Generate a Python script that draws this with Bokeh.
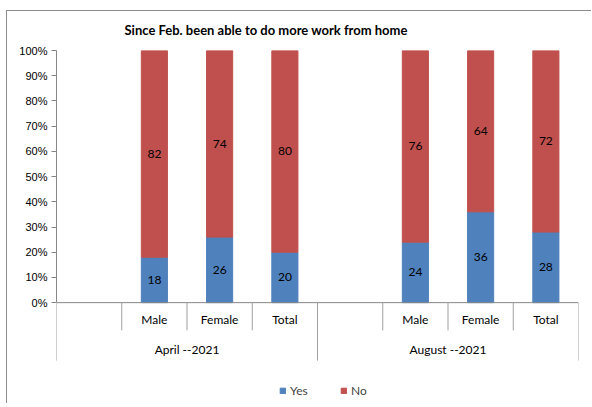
from bokeh.plotting import figure
from bokeh.models import ColumnDataSource, Legend, LegendItem, FixedTicker, PrintfTickFormatter, Range1d
from bokeh.core.properties import value
from bokeh.embed import file_html
from bokeh.resources import INLINE

# ---- data ----
title_text = "Since Feb. been able to do more work from home"
periods = ["April --2021", "August --2021"]
slot_labels = ["", "Male", "Female", "Total"]   # first slot of each period is empty
genders = ["Male", "Female", "Total"]
yes = [18, 26, 20, 24, 36, 28]
no = [82, 74, 80, 76, 64, 72]
y_ticks = [0, 10, 20, 30, 40, 50, 60, 70, 80, 90, 100]

BLUE = "#4F81BD"
RED = "#C0504D"
AXIS = "#868686"
FONT = "Lato"

n_slots = len(slot_labels)
xs, cats = [], []
for i, per in enumerate(periods):
    for j, g in enumerate(genders):
        xs.append(i * n_slots + slot_labels.index(g) + 0.5)
        cats.append(g)

src = ColumnDataSource(dict(
    x=xs, yes=yes, no=no,
    yes_mid=[v / 2 for v in yes],
    no_mid=[a + b / 2 for a, b in zip(yes, no)],
    yes_lbl=[str(v) for v in yes],
    no_lbl=[str(v) for v in no],
))

total_slots = n_slots * len(periods)
p = figure(frame_width=522, frame_height=353, output_backend="svg", toolbar_location=None,
           x_range=Range1d(0, total_slots), y_range=Range1d(-40, 100),
           x_axis_location=None,
           min_border_left=49, min_border_right=13, min_border_top=38, min_border_bottom=0,
           title=title_text)
p.styles = {"margin-left": "6px", "margin-top": "10px",
            "border-left": "1px solid #8c8c8c", "border-top": "1px solid #8c8c8c"}
p.xgrid.visible = False
p.ygrid.visible = False
p.outline_line_color = None

p.title.align = "left"
p.title.offset = 68
p.title.standoff = 21
p.title.vertical_align = "top"
p.title.text_font = FONT
p.title.text_font_size = "13px"
p.title.text_font_style = "bold"
p.title.text_color = "#000000"

ya = p.yaxis[0]
ya.bounds = (0, 100)
ya.ticker = FixedTicker(ticks=y_ticks)
ya.formatter = PrintfTickFormatter(format="%d%%")
ya.minor_tick_line_color = None
ya.major_tick_in = 0
ya.major_tick_out = 5
ya.axis_line_color = AXIS
ya.major_tick_line_color = AXIS
ya.major_label_text_font = "Liberation Sans"
ya.major_label_text_font_size = "11px"
ya.major_label_text_color = "#000000"
ya.major_label_standoff = 4

rs = p.vbar_stack(["yes", "no"], x="x", width=0.4, color=[BLUE, RED], source=src)

# horizontal axis line at 0
p.segment(x0=[0], y0=[0], x1=[total_slots], y1=[0], line_color=AXIS, line_width=1)
# category separators
bx = list(range(total_slots + 1))
by = [-23 if b % n_slots == 0 else -11 for b in bx]
p.segment(x0=bx, y0=[0] * len(bx), x1=bx, y1=by, line_color="#a0a0a0", line_width=1)

# data labels
p.text(x="x", y="yes_mid", text="yes_lbl", source=src, text_align="center", text_baseline="middle",
       text_font=value(FONT), text_font_size=value("12px"), text_color="#000000")
p.text(x="x", y="no_mid", text="no_lbl", source=src, text_align="center", text_baseline="middle",
       text_font=value(FONT), text_font_size=value("12px"), text_color="#000000")

# category labels
p.text(x=xs, y=[-6.6] * len(xs), text=cats, text_align="center", text_baseline="middle",
       text_font=value(FONT), text_font_size=value("12px"), text_color="#000000")
px = [i * n_slots + n_slots / 2 for i in range(len(periods))]
p.text(x=px, y=[-18.4] * len(px), text=periods, text_align="center", text_baseline="middle",
       text_font=value(FONT), text_font_size=value("12px"), text_color="#000000")

legend = Legend(items=[LegendItem(label="Yes", renderers=[rs[0]]),
                       LegendItem(label="No", renderers=[rs[1]])],
                orientation="horizontal", location=(223, 5))
legend.border_line_color = None
legend.background_fill_alpha = 0
legend.glyph_width = 7
legend.glyph_height = 7
legend.label_text_font = FONT
legend.label_text_font_size = "12px"
legend.label_standoff = 4
legend.spacing = 30
legend.padding = 2
legend.margin = 0
p.add_layout(legend)

open("out.html", "w").write(file_html(p, INLINE))
